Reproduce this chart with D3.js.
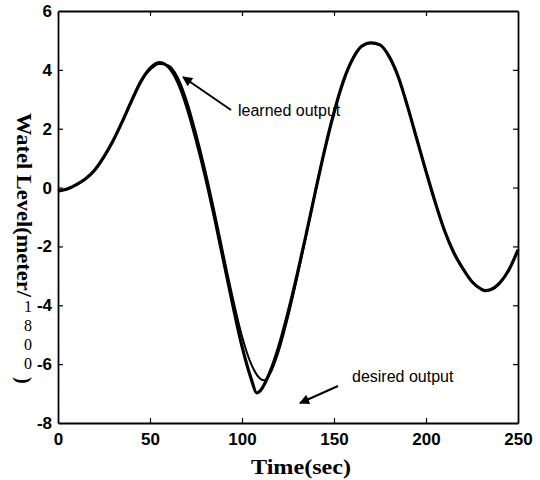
<!DOCTYPE html>
<html>
<head>
<meta charset="utf-8">
<script src="https://cdn.jsdelivr.net/npm/d3@7"></script>
<style>
  html, body { margin: 0; padding: 0; background: #fff; }
  svg { display: block; }
</style>
</head>
<body>
<script>
// ---- data ----
const timeDesired = [0,5,10,15,20,25,30,35,40,45,50,55,60,65,70,75,80,85,90,95,100,105,108,110,115,120,125,130,135,140,145,150,155,160,165,170,175,180,185,190,195,200,205,210,215,220,225,230,232,235,240,245,250];
const desiredOutput = [-0.12,-0.05,0.1,0.3,0.6,1.05,1.6,2.25,2.95,3.6,4.05,4.25,4.1,3.6,2.75,1.65,0.4,-1.0,-2.5,-4.0,-5.4,-6.5,-6.98,-6.9,-6.3,-5.4,-4.25,-2.95,-1.55,-0.1,1.3,2.55,3.6,4.35,4.8,4.92,4.85,4.45,3.75,2.75,1.65,0.55,-0.5,-1.45,-2.2,-2.75,-3.2,-3.45,-3.5,-3.47,-3.25,-2.8,-2.12];
const timeLearned = [0,5,10,15,20,25,30,35,40,45,50,55,60,65,70,75,80,85,90,95,100,105,110,112,115,120,125,130,135,140,145,150,155,160,165,170,175,180,185,190,195,200,205,210,215,220,225,230,232,235,240,245,250];
const learnedOutput = [-0.12,-0.05,0.1,0.3,0.6,1.05,1.6,2.25,2.95,3.6,4.0,4.2,4.15,3.75,2.95,1.85,0.6,-0.8,-2.3,-3.75,-5.05,-6.0,-6.5,-6.55,-6.35,-5.55,-4.4,-3.05,-1.6,-0.1,1.3,2.55,3.6,4.35,4.8,4.92,4.85,4.45,3.75,2.75,1.65,0.55,-0.5,-1.45,-2.2,-2.75,-3.2,-3.45,-3.5,-3.47,-3.25,-2.8,-2.12];
const xTicks = [0,50,100,150,200,250];
const yTicks = [-8,-6,-4,-2,0,2,4,6];
const xLabel = "Time(sec)";
const yLabelMain = "Watel Level(meter/";
const yLabelDigits = ["1","8","0","0"];
const yLabelEnd = ")";
const annotations = [
  {text: "learned output", tx: 238, ty: 116, ax1: 231, ay1: 110, ax2: 183, ay2: 77},
  {text: "desired output", tx: 352, ty: 382, ax1: 338, ay1: 386, ax2: 300, ay2: 403}
];

// ---- layout ----
const W = 540, H = 480;
const mLeft = 58, mRight = 518, mTop = 11, mBottom = 423;

const svg = d3.select("body").append("svg").attr("width", W).attr("height", H);

const x = d3.scaleLinear().domain([0, 250]).range([mLeft, mRight]);
const y = d3.scaleLinear().domain([-8, 6]).range([mBottom, mTop]);

// curves
const line = d3.line().x(d => x(d[0])).y(d => y(d[1])).curve(d3.curveMonotoneX);
const desired = timeDesired.map((t, i) => [t, desiredOutput[i]]);
const learned = timeLearned.map((t, i) => [t, learnedOutput[i]]);

svg.append("path").datum(desired).attr("d", line)
  .attr("fill", "none").attr("stroke", "#000").attr("stroke-width", 3.2).attr("stroke-linejoin", "round");
svg.append("path").datum(learned).attr("d", line)
  .attr("fill", "none").attr("stroke", "#000").attr("stroke-width", 2).attr("stroke-linejoin", "round");

// axes (box with inward ticks)
const axisFont = "'Liberation Sans', Arial, sans-serif";
const fmt = d => String(d);
const gB = svg.append("g").attr("transform", `translate(0,${mBottom})`)
  .call(d3.axisBottom(x).tickValues(xTicks).tickFormat(fmt).tickSize(-5).tickPadding(10).tickSizeOuter(0));
const gT = svg.append("g").attr("transform", `translate(0,${mTop})`)
  .call(d3.axisTop(x).tickValues(xTicks).tickSize(-5).tickFormat("").tickSizeOuter(0));
const gL = svg.append("g").attr("transform", `translate(${mLeft},0)`)
  .call(d3.axisLeft(y).tickValues(yTicks).tickFormat(fmt).tickSize(-5).tickPadding(6).tickSizeOuter(0));
const gR = svg.append("g").attr("transform", `translate(${mRight},0)`)
  .call(d3.axisRight(y).tickValues(yTicks).tickSize(-5).tickFormat("").tickSizeOuter(0));

[gB, gT, gL, gR].forEach(g => {
  g.select(".domain").attr("stroke", "#000").attr("stroke-width", 1.8);
  g.selectAll(".tick line").attr("stroke", "#000").attr("stroke-width", 1.2);
  g.selectAll(".tick text").attr("fill", "#000")
    .style("font-family", axisFont).style("font-size", "17px").style("font-weight", "bold");
});
// remove tick marks at the box corners
gB.selectAll(".tick").filter(d => d === 0 || d === 250).select("line").remove();
gT.selectAll(".tick").filter(d => d === 0 || d === 250).select("line").remove();
gL.selectAll(".tick").filter(d => d === -8 || d === 6).select("line").remove();
gR.selectAll(".tick").filter(d => d === -8 || d === 6).select("line").remove();

// x label
const serif = "'Liberation Serif', 'Times New Roman', serif";
svg.append("text").attr("x", 301).attr("y", 474).attr("text-anchor", "middle")
  .attr("textLength", 100).attr("lengthAdjust", "spacingAndGlyphs")
  .style("font-family", serif).style("font-size", "20px").style("font-weight", "bold")
  .text(xLabel);

// y label (vertical, reading top to bottom, digits upright)
const yl = svg.append("g");
yl.append("text").attr("transform", "translate(17,113) rotate(90)")
  .attr("textLength", 184).attr("lengthAdjust", "spacingAndGlyphs")
  .style("font-family", serif).style("font-size", "20px").style("font-weight", "bold")
  .text(yLabelMain);
const digitY = [307, 326, 345, 364];
yl.selectAll("text.dg").data(yLabelDigits).enter().append("text").attr("class", "dg")
  .attr("x", 28).attr("y", (d, i) => digitY[i] + 5).attr("text-anchor", "middle")
  .style("font-family", serif).style("font-size", "16px")
  .text(d => d);
yl.append("text").attr("transform", "translate(17,377) rotate(90)")
  .style("font-family", serif).style("font-size", "20px").style("font-weight", "bold")
  .text(yLabelEnd);

// annotations
svg.append("defs").append("marker").attr("id", "ah").attr("viewBox", "0 0 10 10")
  .attr("refX", 9).attr("refY", 5).attr("markerWidth", 6).attr("markerHeight", 5)
  .attr("orient", "auto").attr("markerUnits", "strokeWidth")
  .append("path").attr("d", "M0,0 L10,5 L0,10 Z").attr("fill", "#000");

annotations.forEach(a => {
  svg.append("text").attr("x", a.tx).attr("y", a.ty)
    .style("font-family", axisFont).style("font-size", "16px")
    .text(a.text);
  svg.append("line").attr("x1", a.ax1).attr("y1", a.ay1).attr("x2", a.ax2).attr("y2", a.ay2)
    .attr("stroke", "#000").attr("stroke-width", 2).attr("marker-end", "url(#ah)");
});
</script>
</body>
</html>
